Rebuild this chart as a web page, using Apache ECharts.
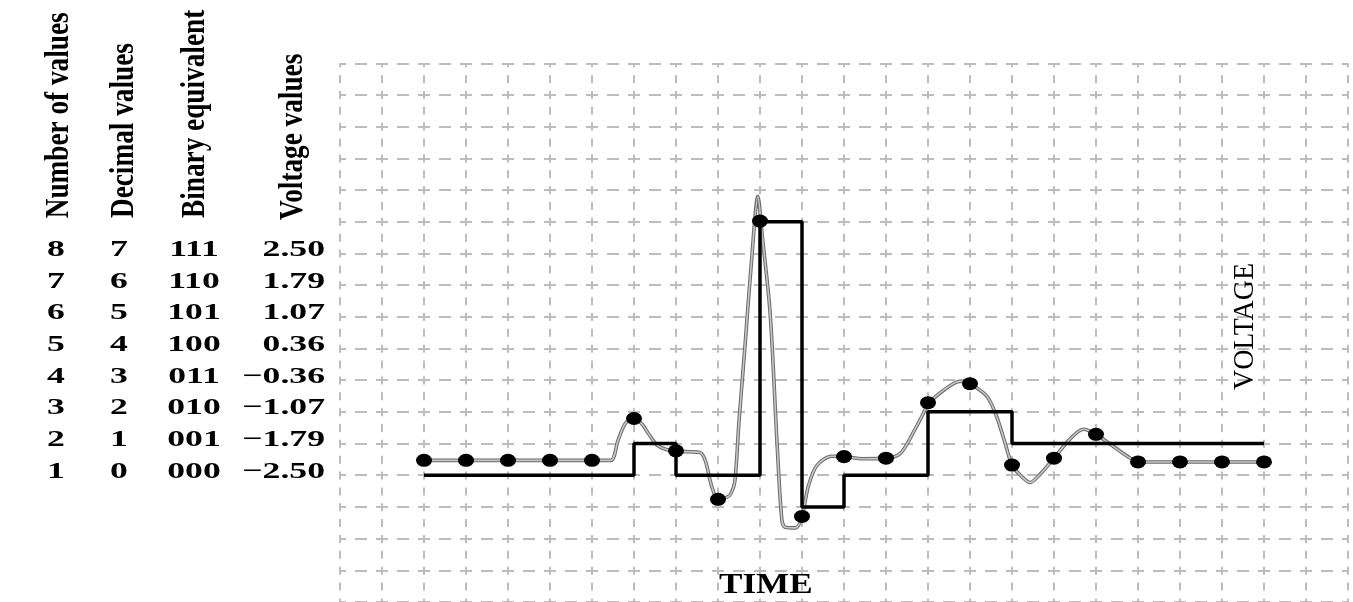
<!DOCTYPE html>
<html><head><meta charset="utf-8">
<script src="https://cdn.jsdelivr.net/npm/echarts@6/dist/echarts.min.js"></script>
<style>html,body{margin:0;padding:0;background:#fff;}#c{width:1353px;height:602px;}</style>
</head><body><div id="c"></div>
<script>
// ---- table (tick labels) ----
const numberOfValues = ['8','7','6','5','4','3','2','1'];
const decimalValues = ['7','6','5','4','3','2','1','0'];
const binaryEquivalent = ['111','110','101','100','011','010','001','000'];
const voltageValues = ['2.50','1.79','1.07','0.36','\u22120.36','\u22121.07','\u22121.79','\u22122.50'];
const tableLevels = [7,6,5,4,3,2,1,0];
const columnHeaders = ['Number of values','Decimal values','Binary equivalent','Voltage values'];
const xAxisTitle = 'TIME';
const yAxisTitle = 'VOLTAGE';

// ---- samples (time index, level in grid units) ----
const sampleTimes = [2,3,4,5,6,7,8,9,10,11,12,13,14,15,16,17,18,19,20,21,22];
const sampleValues = [0.47,0.47,0.47,0.47,0.47,1.79,0.77,-0.76,8.02,-1.30,0.59,0.54,2.29,2.89,0.32,0.54,1.29,0.42,0.42,0.42,0.42];
const quantizedLevels = [0,0,0,0,0,1,0,0,8,-1,0,0,2,2,1,1,1,1,1,1,1];

// ---- analog signal trace ----
const signalX = [2,3,4,5,6,6.45,6.62,6.8,7.0,7.2,7.35,7.55,7.75,8.0,8.3,8.57,8.7,8.85,9.0,9.2,9.3,9.4,9.5,9.65,9.8,9.95,10.05,10.24,10.41,10.52,10.6,10.85,11.0,11.15,11.35,11.7,12.0,12.45,13.0,13.35,13.65,13.9,14.0,14.35,14.68,14.9,15.0,15.4,15.63,15.85,16.0,16.2,16.43,16.67,17.0,17.38,17.7,18.0,18.4,18.8,19.0,20,21,22];
const signalY = [0.47,0.47,0.47,0.47,0.47,0.47,1.1,1.65,1.8,1.6,1.3,0.95,0.82,0.77,0.74,0.72,0.45,-0.35,-0.76,-0.7,-0.6,-0.2,1.7,4.2,6.8,8.8,7.6,5.13,0.92,-1.4,-1.64,-1.66,-1.3,-0.35,0.3,0.6,0.59,0.52,0.54,0.7,1.35,1.98,2.25,2.66,2.94,2.97,2.9,2.5,1.87,0.95,0.32,0.0,-0.23,0.03,0.54,1.14,1.45,1.29,0.92,0.55,0.42,0.42,0.42,0.42];

const pair = (xs, ys) => xs.map((x, i) => [x, ys[i]]);

const chart = echarts.init(document.getElementById('c'), null, {renderer: 'canvas'});
const gridColor = '#bdbdbd';
chart.setOption({
  animation: false,
  backgroundColor: '#ffffff',
  grid: {left: 340, top: 63.3, width: 1008, height: 539.1, containLabel: false},
  xAxis: {
    type: 'value', min: 0, max: 24, interval: 1,
    axisLine: {show: false}, axisTick: {show: false}, axisLabel: {show: false},
    splitLine: {show: true, lineStyle: {color: gridColor, width: 2, type: [8, 7.856], dashOffset: 4}}
  },
  yAxis: {
    type: 'value', min: -4, max: 13, interval: 1,
    axisLine: {show: false}, axisTick: {show: false}, axisLabel: {show: false},
    splitLine: {show: true, lineStyle: {color: gridColor, width: 2, type: [12, 9], dashOffset: 6}}
  },
  series: [
    {type: 'line', data: pair(signalX, signalY), smooth: 0.3, showSymbol: false, silent: true, z: 2,
     lineStyle: {color: '#6a6a6a', width: 3.6}},
    {type: 'line', data: pair(signalX, signalY), smooth: 0.3, showSymbol: false, silent: true, z: 3,
     lineStyle: {color: '#c6c6c6', width: 1.6}},
    {type: 'line', step: 'end', data: pair(sampleTimes, quantizedLevels), showSymbol: false, silent: true, z: 4,
     lineStyle: {color: '#000', width: 3.5}},
    {type: 'scatter', data: pair(sampleTimes, sampleValues), symbol: 'circle', symbolSize: [16, 13], silent: true, z: 5,
     itemStyle: {color: '#000', opacity: 1}}
  ]
});

// ---- text table placed using the y axis scale ----
const serif = '"Liberation Serif", "Times New Roman", serif';
const els = [];
const rowY = lv => chart.convertToPixel({gridIndex: 0}, [0, lv])[1] - 3.5;
const cols = [
  {arr: numberOfValues, x: 56, align: 'center'},
  {arr: decimalValues, x: 119, align: 'center'},
  {arr: binaryEquivalent, x: 194, align: 'center'},
  {arr: voltageValues, x: 325, align: 'right'}
];
cols.forEach(c => {
  c.arr.forEach((t, i) => {
    els.push({type: 'text', x: c.x, y: rowY(tableLevels[i]), scaleX: 1.55, silent: true,
      style: {text: t, font: 'bold 23px ' + serif, fill: '#000', align: c.align, verticalAlign: 'middle',
              textAlign: c.align, textVerticalAlign: 'middle'}});
  });
});
const headerPos = [[59.4, 218.3], [124.3, 218], [195.6, 218], [293.6, 220]];
columnHeaders.forEach((t, i) => {
  els.push({type: 'text', x: headerPos[i][0], y: headerPos[i][1], rotation: Math.PI / 2, scaleX: 0.95, scaleY: 1.2, silent: true,
    style: {text: t, font: 'bold 28.7px ' + serif, fill: '#000', align: 'left', verticalAlign: 'middle',
            textAlign: 'left', textVerticalAlign: 'middle'}});
});
els.push({type: 'text', x: 765.8, y: 585, scaleX: 1.17, silent: true, z: 10,
  style: {text: xAxisTitle, font: 'bold 30px ' + serif, fill: '#000', align: 'center', verticalAlign: 'middle',
          textAlign: 'center', textVerticalAlign: 'middle'}});
els.push({type: 'text', x: 1245, y: 390, rotation: Math.PI / 2, scaleX: 0.93, silent: true, z: 10,
  style: {text: yAxisTitle, font: '30px ' + serif, fill: '#000', align: 'left', verticalAlign: 'middle',
          textAlign: 'left', textVerticalAlign: 'middle'}});
chart.setOption({graphic: {elements: els}});
</script></body></html>
